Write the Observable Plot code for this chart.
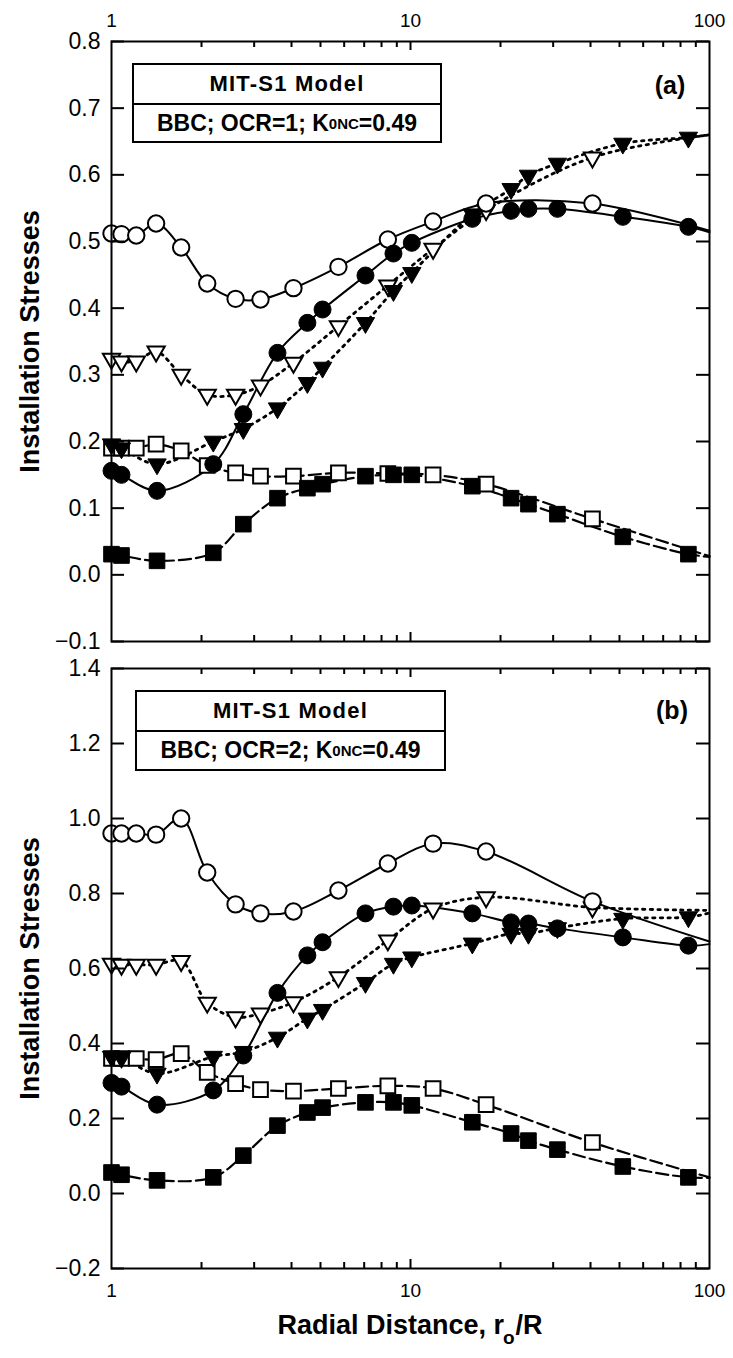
<!DOCTYPE html>
<html>
<head>
<meta charset="utf-8">
<script src="https://cdn.jsdelivr.net/npm/d3@7"></script>
<script src="https://cdn.jsdelivr.net/npm/@observablehq/plot@0.6"></script>
<style>
  body { margin: 0; background: #fff; }
  #wrap { position: relative; width: 733px; height: 1358px; font-family: "Liberation Sans", Arial, sans-serif; color: #000; }
  #wrap svg { display: block; }
  .legend { position: absolute; border: 2px solid #000; box-sizing: border-box; background: #fff; font-weight: bold; }
  .legend .row { display: flex; align-items: center; justify-content: center; box-sizing: border-box; }
  .legend .row1 { border-bottom: 2px solid #000; font-size: 22px; letter-spacing: 1.2px; }
  .legend .row2 { font-size: 23px; }
  .legend sub { font-size: 15px; vertical-align: -4px; }
  .tag { position: absolute; font-weight: bold; font-size: 25px; transform: translate(-50%, -50%); }
  .xtitle { position: absolute; font-weight: bold; font-size: 27px; transform: translate(-50%, -50%); white-space: nowrap; }
  .xtitle .sub { display: inline-block; font-size: 19px; position: relative; top: 10px; margin-left: -1px; margin-right: 1px; }
</style>
</head>
<body>
<div id="wrap">
  <div id="panelA"></div>
  <div id="panelB"></div>
</div>
<script>
// ---------- data ----------
// x positions of the open-symbol series (r0/R)
const xOpen = [1.0, 1.08, 1.21, 1.41, 1.71, 2.09, 2.6, 3.15, 4.06, 5.74, 8.4, 11.9, 17.9, 40.6];
// x positions of the filled-symbol series (r0/R)
const xFilled = [1.0, 1.08, 1.42, 2.19, 2.76, 3.59, 4.52, 5.08, 7.07, 8.77, 10.1, 16.1, 21.7, 24.8, 31, 51.3, 85];
const xEnd = 100;

// Panel (a): OCR = 1
const openCircA   = [0.512, 0.511, 0.509, 0.527, 0.491, 0.437, 0.414, 0.413, 0.430, 0.462, 0.503, 0.530, 0.557, 0.557];
const filledCircA = [0.156, 0.150, 0.126, 0.166, 0.241, 0.333, 0.378, 0.398, 0.449, 0.482, 0.498, 0.534, 0.546, 0.549, 0.549, 0.537, 0.522];
const openTriA    = [0.324, 0.320, 0.320, 0.335, 0.300, 0.270, 0.270, 0.284, 0.318, 0.373, 0.434, 0.489, 0.547, 0.626];
const filledTriA  = [0.196, 0.190, 0.166, 0.200, 0.219, 0.250, 0.288, 0.311, 0.378, 0.426, 0.453, 0.541, 0.579, 0.599, 0.617, 0.647, 0.656];
const openSqA     = [0.190, 0.190, 0.190, 0.196, 0.186, 0.164, 0.153, 0.148, 0.148, 0.153, 0.152, 0.150, 0.136, 0.084];
const filledSqA   = [0.031, 0.029, 0.021, 0.033, 0.076, 0.115, 0.130, 0.136, 0.148, 0.150, 0.150, 0.133, 0.115, 0.106, 0.091, 0.057, 0.031];
// curve values at the right edge (r0/R = 100): openCirc, filledCirc, openTri, filledTri, openSq, filledSq
const endA = [0.516, 0.514, 0.660, 0.660, 0.028, 0.027];

// Panel (b): OCR = 2
const openCircB   = [0.960, 0.960, 0.960, 0.957, 1.000, 0.856, 0.771, 0.747, 0.752, 0.808, 0.880, 0.933, 0.912, 0.779];
const filledCircB = [0.295, 0.285, 0.237, 0.275, 0.368, 0.535, 0.635, 0.670, 0.747, 0.765, 0.768, 0.747, 0.723, 0.720, 0.707, 0.683, 0.661];
const openTriB    = [0.613, 0.610, 0.610, 0.610, 0.620, 0.509, 0.470, 0.480, 0.510, 0.577, 0.675, 0.760, 0.790, 0.763];
const filledTriB  = [0.365, 0.362, 0.320, 0.365, 0.378, 0.416, 0.467, 0.490, 0.562, 0.613, 0.630, 0.667, 0.693, 0.693, 0.708, 0.733, 0.737];
const openSqB     = [0.360, 0.360, 0.360, 0.357, 0.373, 0.323, 0.293, 0.277, 0.273, 0.280, 0.287, 0.280, 0.237, 0.136];
const filledSqB   = [0.056, 0.050, 0.035, 0.043, 0.101, 0.181, 0.216, 0.229, 0.243, 0.243, 0.235, 0.190, 0.160, 0.141, 0.117, 0.072, 0.043];
const endB = [0.672, 0.665, 0.755, 0.748, 0.043, 0.042];

// axes
const yDomainA = [-0.1, 0.8];
const yTicksA = [-0.1, 0.0, 0.1, 0.2, 0.3, 0.4, 0.5, 0.6, 0.7, 0.8];
const yDomainB = [-0.2, 1.4];
const yTicksB = [-0.2, 0.0, 0.2, 0.4, 0.6, 0.8, 1.0, 1.2, 1.4];
const xMajor = [1, 10, 100];
const xMinor = [2, 3, 4, 5, 6, 7, 8, 9, 20, 30, 40, 50, 60, 70, 80, 90];
const xMid = [10];
const yTitle = "Installation Stresses";

// ---------- layout ----------
const W = 733, ML = 111, MR = 24;
const FW = W - ML - MR;          // frame width
const FH = 600;                  // frame height (both panels)
const FONT = "'Liberation Sans', Arial, sans-serif";

const pts = (xs, ys) => xs.map((x, i) => ({x, y: ys[i]}));
const linePts = (xs, ys, e) => pts(xs, ys).concat([{x: xEnd, y: e}]);

function seriesMarks(sets, ends) {
  const [oc, fc, ot, ft, os, fs] = sets;
  const solid = {stroke: "black", strokeWidth: 2, curve: "catmull-rom"};
  const dotted = {stroke: "black", strokeWidth: 2.8, strokeDasharray: "2.4,5.2", curve: "catmull-rom"};
  const dashed = {stroke: "black", strokeWidth: 2.2, strokeDasharray: "12,5", curve: "catmull-rom"};
  return [
    Plot.line(linePts(xOpen, os, ends[4]), {x: "x", y: "y", ...dashed}),
    Plot.line(linePts(xFilled, fs, ends[5]), {x: "x", y: "y", ...dashed}),
    Plot.line(linePts(xOpen, ot, ends[2]), {x: "x", y: "y", ...dotted}),
    Plot.line(linePts(xFilled, ft, ends[3]), {x: "x", y: "y", ...dotted}),
    Plot.line(linePts(xOpen, oc, ends[0]), {x: "x", y: "y", ...solid}),
    Plot.line(linePts(xFilled, fc, ends[1]), {x: "x", y: "y", ...solid}),
    Plot.dot(pts(xOpen, os), {x: "x", y: "y", symbol: "square", r: 8.3, fill: "white", stroke: "black", strokeWidth: 2}),
    Plot.dot(pts(xFilled, fs), {x: "x", y: "y", symbol: "square", r: 8.8, fill: "black", stroke: "black", strokeWidth: 1}),
    Plot.dot(pts(xOpen, ot), {x: "x", y: "y", symbol: "triangle", rotate: 180, r: 6.4, fill: "white", stroke: "black", strokeWidth: 2}),
    Plot.dot(pts(xFilled, ft), {x: "x", y: "y", symbol: "triangle", rotate: 180, r: 6.8, fill: "black", stroke: "black", strokeWidth: 1}),
    Plot.dot(pts(xOpen, oc), {x: "x", y: "y", symbol: "circle", r: 8.2, fill: "white", stroke: "black", strokeWidth: 2}),
    Plot.dot(pts(xFilled, fc), {x: "x", y: "y", symbol: "circle", r: 8.5, fill: "black", stroke: "black", strokeWidth: 1})
  ];
}

function axisMarks(yTicks, xLabelAnchor, xPad) {
  const tk = {stroke: "black", strokeWidth: 2};
  return [
    // tick labels
    Plot.axisY({anchor: "left", ticks: yTicks, tickSize: 0, tickPadding: 11, fontSize: 23,
      tickFormat: d => d3.format(".1f")(d), label: null}),
    Plot.axisX({anchor: xLabelAnchor, ticks: xMajor, tickSize: 0, tickPadding: xPad, fontSize: 19,
      tickFormat: d => String(d), label: null}),
    // inward ticks on all four sides
    Plot.tickY(yTicks, {y: d => d, insetRight: FW - 13, ...tk}),
    Plot.tickY(yTicks, {y: d => d, insetLeft: FW - 13, ...tk}),
    Plot.tickX(xMinor, {x: d => d, insetTop: FH - 6, ...tk}),
    Plot.tickX(xMinor, {x: d => d, insetBottom: FH - 6, ...tk}),
    Plot.tickX(xMid, {x: d => d, insetTop: FH - 9, ...tk}),
    Plot.tickX(xMid, {x: d => d, insetBottom: FH - 9, ...tk}),
    Plot.text([yTitle], {frameAnchor: "left", textAnchor: "middle", text: d => d, rotate: -90, dx: -81,
      fontSize: 27, fontWeight: "bold"}),
    Plot.frame({stroke: "black", strokeWidth: 2})
  ];
}

const common = {
  width: W, marginLeft: ML, marginRight: MR,
  x: {type: "log", domain: [1, 100]},
  style: {fontFamily: FONT, background: "white", color: "black", overflow: "visible"}
};

const plotA = Plot.plot({
  ...common,
  height: 41 + FH + 14, marginTop: 41, marginBottom: 14,
  y: {domain: yDomainA},
  marks: [
    ...seriesMarks([openCircA, filledCircA, openTriA, filledTriA, openSqA, filledSqA], endA),
    ...axisMarks(yTicksA, "top", 15)
  ]
});

const plotB = Plot.plot({
  ...common,
  height: 13 + FH + 90, marginTop: 13, marginBottom: 90,
  y: {domain: yDomainB},
  marks: [
    ...seriesMarks([openCircB, filledCircB, openTriB, filledTriB, openSqB, filledSqB], endB),
    ...axisMarks(yTicksB, "bottom", 15)
  ]
});

document.getElementById("panelA").appendChild(plotA);
document.getElementById("panelB").appendChild(plotB);

// ---------- overlays (legend boxes, panel tags, x title) ----------
const wrap = document.getElementById("wrap");
function legend(left, top, w, h1, h2, line1, line2) {
  const d = document.createElement("div");
  d.className = "legend";
  d.style.left = left + "px"; d.style.top = top + "px"; d.style.width = w + "px";
  d.innerHTML = `<div class="row row1" style="height:${h1}px">${line1}</div><div class="row row2" style="height:${h2}px">${line2}</div>`;
  wrap.appendChild(d);
}
legend(132, 63, 310, 40, 36, "MIT-S1 Model", "BBC; OCR=1; K<sub>0NC</sub>=0.49");
legend(135, 690, 311, 40, 37, "MIT-S1 Model", "BBC; OCR=2; K<sub>0NC</sub>=0.49");

function tag(x, y, t) {
  const d = document.createElement("div");
  d.className = "tag"; d.style.left = x + "px"; d.style.top = y + "px"; d.textContent = t;
  wrap.appendChild(d);
}
tag(670, 85, "(a)");
tag(672, 710, "(b)");

const xt = document.createElement("div");
xt.className = "xtitle";
xt.style.left = "410px"; xt.style.top = "1325px";
xt.innerHTML = 'Radial Distance, r<span class="sub">o</span>/R';
wrap.appendChild(xt);
</script>
</body>
</html>
